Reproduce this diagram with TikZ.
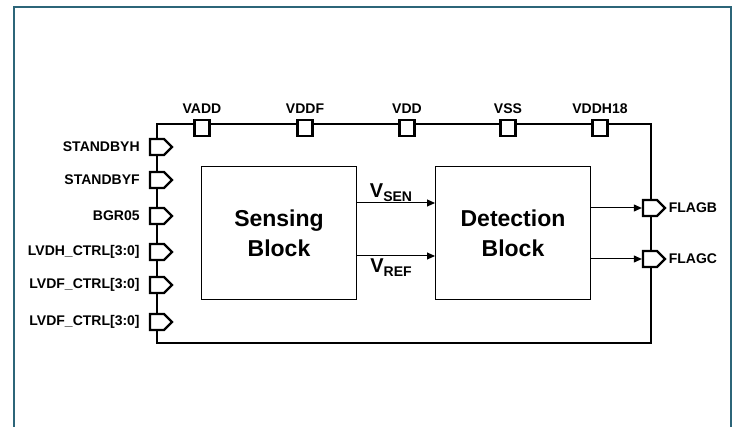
\documentclass[tikz,border=0pt]{standalone}
\usepackage{fontspec}
\setmainfont{Liberation Sans}
\usetikzlibrary{arrows.meta,shapes.symbols,positioning}
\definecolor{frameteal}{HTML}{2C6579}

\newcommand{\sigsub}[1]{\raisebox{-4pt}{\fontsize{14}{16}\selectfont #1}}

\begin{document}
\begin{tikzpicture}[
  x=1pt,
  y=-1pt,
  line join=miter,
  frame/.style={draw=frameteal,line width=2.6pt},
  bus/.style={draw=black,line width=2.3pt},
  block/.style={draw=black,line width=1pt,fill=white,minimum width=155pt,minimum height=133pt,
    align=center,font=\bfseries\fontsize{23}{30}\selectfont},
  pad/.style={draw=black,line width=2.3pt,fill=white,minimum width=15pt,minimum height=16pt,inner sep=0pt},
  pin/.style={signal,signal to=east,signal pointer angle=90,draw=black,line width=2.3pt,fill=white,
    minimum width=22pt,minimum height=16pt,inner sep=0pt},
  pinlabel/.style={font=\bfseries\fontsize{14}{16}\selectfont,inner sep=1pt},
  siglabel/.style={font=\bfseries\fontsize{20}{22}\selectfont,inner sep=1pt},
  sig/.style={draw=black,line width=1pt,-{Triangle[length=8pt,width=7pt]}}
]
  \useasboundingbox (0,0) rectangle (736,427);

  % Outer frame, open at the bottom edge.
  \draw[frame] (14,440) -- (14,7) -- (731,7) -- (731,440);

  % Chip boundary.
  \coordinate (boxNW) at (157,124);
  \coordinate (boxSE) at (651,343);
  \draw[bus] (boxNW) rectangle (boxSE);

  % Supply pads along the top edge.
  \foreach \x/\name in {202/VADD,305/VDDF,407/VDD,508/VSS,600/VDDH18} {
    \node[pad] (pad\name) at (\x,128) {};
    \node[pinlabel,above=4pt of pad\name] (lbl\name) {\name};
  }

  % Input pins along the left edge.
  \foreach \y/\name/\txt in {147/sbh/STANDBYH,180/sbf/STANDBYF,216/bgr/BGR05,
                            252/lvdh/LVDH\_CTRL[3:0],285/lvdf/LVDF\_CTRL[3:0],322/lvdfb/LVDF\_CTRL[3:0]} {
    \node[pin] (in\name) at (157,\y) {};
    \node[pinlabel,left=8pt of in\name] (lbl\name) {\txt};
  }

  % Internal blocks.
  \node[block] (sense) at (279,233.5) {Sensing\\Block};
  \node[block] (detect) at (513,233.5) {Detection\\Block};

  % Output pins along the right edge.
  \node[pin] (flagb) at (650,208) {};
  \node[pin] (flagc) at (650,259) {};
  \node[pinlabel,right=1pt of flagb] (lblflagb) {FLAGB};
  \node[pinlabel,right=1pt of flagc] (lblflagc) {FLAGC};

  % Signals between the blocks.
  \draw[sig] ([yshift=30.5pt]sense.east) -- ([yshift=30.5pt]detect.west)
    node[siglabel,midway,above=0pt,xshift=-5pt] (vsen) {V\sigsub{SEN}};
  \draw[sig] ([yshift=-22.5pt]sense.east) -- ([yshift=-22.5pt]detect.west)
    node[siglabel,midway,below=1pt,xshift=-5pt] (vref) {V\sigsub{REF}};

  % Flags to the output pins.
  \draw[sig] (detect.east |- flagb.west) -- (flagb.west);
  \draw[sig] (detect.east |- flagc.west) -- (flagc.west);
\end{tikzpicture}
\end{document}
